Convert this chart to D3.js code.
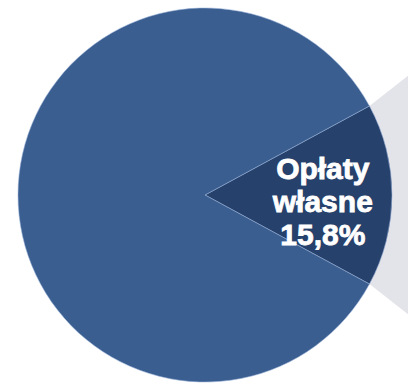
<!DOCTYPE html>
<html>
<head>
<meta charset="utf-8">
<script src="https://cdn.jsdelivr.net/npm/d3@7"></script>
<style>
  html, body { margin: 0; padding: 0; background: #ffffff; }
  svg { display: block; }
</style>
</head>
<body>
<svg id="chart" width="408" height="385"></svg>
<script>
// Shares of the budget (percent)
const categories = ["Opłaty własne", "Pozostałe"];
const shares = [15.8, 84.2];
const labelLines = ["Opłaty", "własne", "15,8%"];

const width = 408, height = 385;
const cx = 205, cy = 195, radius = 187;

const colors = d3.scaleOrdinal()
  .domain(categories)
  .range(["#26416b", "#3a5e90"]);

const svg = d3.select("#chart");
const g = svg.append("g").attr("transform", `translate(${cx},${cy})`);

// Highlighted slice is centred on the 3 o'clock direction
const highlightSpan = shares[0] / d3.sum(shares) * 2 * Math.PI;
const start = Math.PI / 2 - highlightSpan / 2;

const pie = d3.pie()
  .sort(null)
  .value(d => d)
  .startAngle(start)
  .endAngle(start + 2 * Math.PI);

const arcs = pie(shares);
const arc = d3.arc().innerRadius(0).outerRadius(radius);

// Grey funnel leading from the highlighted slice to the right edge
const hl = arcs[0];
const rimPoint = a => [radius * Math.sin(a), -radius * Math.cos(a)];
const up = rimPoint(hl.startAngle);
const down = rimPoint(hl.endAngle);
const spread = 38 * Math.PI / 180;
const reach = 200;
const funnel = [
  up,
  [up[0] + reach * Math.cos(spread), up[1] - reach * Math.sin(spread)],
  [down[0] + reach * Math.cos(spread), down[1] + reach * Math.sin(spread)],
  down
];
g.append("path")
  .attr("d", d3.line()(funnel) + "Z")
  .attr("fill", "#e3e3ea");

// Pie slices
g.selectAll("path.slice")
  .data(arcs)
  .enter()
  .append("path")
  .attr("class", "slice")
  .attr("d", arc)
  .attr("fill", (d, i) => colors(categories[i]))
  .attr("stroke", "rgba(150,175,215,0.55)")
  .attr("stroke-width", 1)
  .attr("stroke-linejoin", "round");

// Label inside the highlighted slice
const labelArc = d3.arc().innerRadius(radius * 0.63).outerRadius(radius * 0.63);
const [lx, ly] = labelArc.centroid(hl);
const lineGap = 33;
const text = g.append("text")
  .attr("text-anchor", "middle")
  .attr("fill", "#ffffff")
  .attr("stroke", "#ffffff")
  .attr("stroke-width", 0.8)
  .attr("font-family", "'Liberation Sans', Arial, sans-serif")
  .attr("font-weight", "bold")
  .attr("font-size", 30);
labelLines.forEach((t, i) => {
  text.append("tspan")
    .attr("x", lx)
    .attr("y", ly - 16 + i * lineGap)
    .text(t);
});
</script>
</body>
</html>
